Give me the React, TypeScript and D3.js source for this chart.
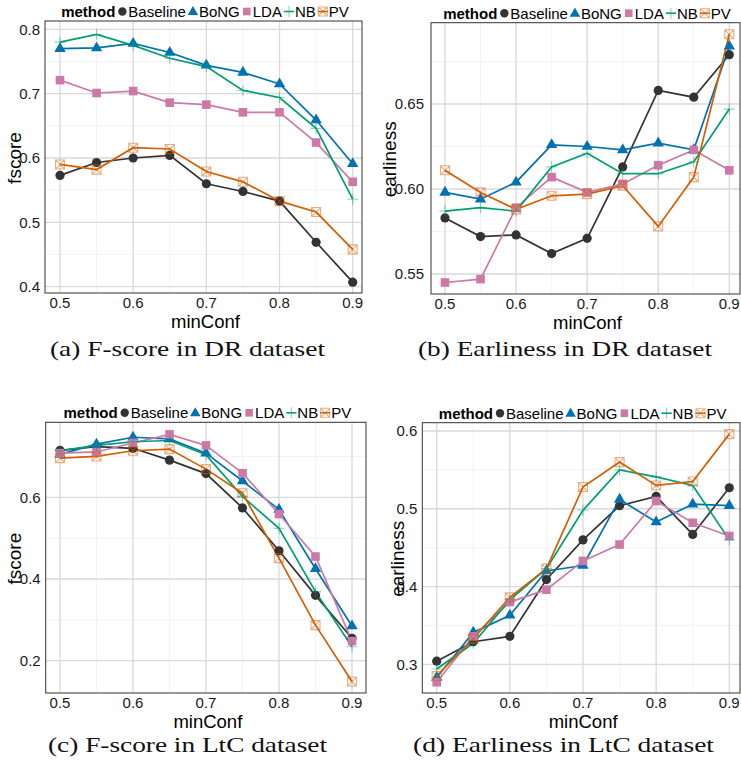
import React, { useEffect, useRef } from "react";
import * as d3 from "d3";

// minConf values on the x axis
const minConf = [0.5, 0.55, 0.6, 0.65, 0.7, 0.75, 0.8, 0.85, 0.9];
const methods = ["Baseline", "BoNG", "LDA", "NB", "PV"];
const colors = ["#333333", "#0072B2", "#CC79A7", "#009E73", "#D55E00"];
const xTicks = [0.5, 0.6, 0.7, 0.8, 0.9];
const xMinor = [0.55, 0.65, 0.75, 0.85];

// one row per method, same order as `methods`
const drFscore = [
  [0.573, 0.593, 0.6, 0.604, 0.56, 0.548, 0.533, 0.469, 0.407],
  [0.77, 0.771, 0.778, 0.764, 0.744, 0.733, 0.715, 0.659, 0.591],
  [0.721, 0.701, 0.704, 0.686, 0.683, 0.671, 0.671, 0.624, 0.563],
  [0.78, 0.792, 0.775, 0.755, 0.742, 0.705, 0.694, 0.646, 0.536],
  [0.59, 0.582, 0.616, 0.614, 0.579, 0.563, 0.533, 0.516, 0.458],
];
const drEarliness = [
  [0.583, 0.572, 0.573, 0.562, 0.571, 0.613, 0.658, 0.654, 0.679],
  [0.598, 0.594, 0.604, 0.626, 0.625, 0.623, 0.627, 0.623, 0.684],
  [0.545, 0.547, 0.589, 0.607, 0.598, 0.603, 0.614, 0.623, 0.611],
  [0.587, 0.589, 0.587, 0.613, 0.621, 0.609, 0.609, 0.616, 0.647],
  [0.611, 0.598, 0.588, 0.596, 0.597, 0.602, 0.578, 0.607, 0.691],
];
const ltcFscore = [
  [0.715, 0.724, 0.72, 0.691, 0.658, 0.574, 0.469, 0.36, 0.255],
  [0.705, 0.73, 0.747, 0.743, 0.708, 0.64, 0.57, 0.425, 0.285],
  [0.708, 0.711, 0.733, 0.754, 0.727, 0.659, 0.559, 0.455, 0.248],
  [0.714, 0.727, 0.736, 0.739, 0.704, 0.602, 0.524, 0.369, 0.234],
  [0.696, 0.7, 0.714, 0.718, 0.669, 0.61, 0.451, 0.287, 0.149],
];
const ltcEarliness = [
  [0.304, 0.329, 0.336, 0.409, 0.46, 0.504, 0.516, 0.467, 0.527],
  [0.283, 0.341, 0.363, 0.42, 0.427, 0.512, 0.483, 0.506, 0.504],
  [0.277, 0.336, 0.38, 0.396, 0.433, 0.454, 0.51, 0.482, 0.465],
  [0.294, 0.327, 0.383, 0.423, 0.498, 0.55, 0.541, 0.53, 0.46],
  [0.285, 0.333, 0.386, 0.423, 0.528, 0.56, 0.53, 0.535, 0.596],
];

const panels = [
  {
    data: drFscore, yTitle: "fscore", caption: "(a) F-score in DR dataset",
    yTicks: [0.4, 0.5, 0.6, 0.7, 0.8], yMinor: [0.45, 0.55, 0.65, 0.75], fmt: ".1f",
    left: 45, right: 362, top: 21, bottom: 293,
    xRange: [60, 352.7], yDomain: [0.4, 0.8], yRange: [286.7, 29.3],
    titleX: 21, labelGap: 5, capX: 187.5, capY: 356, capW: 275,
  },
  {
    data: drEarliness, yTitle: "earliness", caption: "(b) Earliness in DR dataset",
    yTicks: [0.55, 0.6, 0.65], yMinor: [0.575, 0.625, 0.675], fmt: ".2f",
    left: 431, right: 740, top: 22.7, bottom: 294,
    xRange: [445, 729.3], yDomain: [0.55, 0.65], yRange: [274, 104],
    titleX: 396, labelGap: 7, capX: 565, capY: 356, capW: 294,
  },
  {
    data: ltcFscore, yTitle: "fscore", caption: "(c) F-score in LtC dataset",
    yTicks: [0.2, 0.4, 0.6], yMinor: [0.3, 0.5, 0.7], fmt: ".1f",
    left: 45.7, right: 366, top: 422.3, bottom: 693,
    xRange: [60, 352], yDomain: [0.2, 0.6], yRange: [660.7, 497.3],
    titleX: 21, labelGap: 5, capX: 187.5, capY: 752, capW: 279,
  },
  {
    data: ltcEarliness, yTitle: "earliness", caption: "(d) Earliness in LtC dataset",
    yTicks: [0.3, 0.4, 0.5, 0.6], yMinor: [0.35, 0.45, 0.55], fmt: ".1f",
    left: 422.3, right: 740, top: 422.7, bottom: 693,
    xRange: [436.7, 729.3], yDomain: [0.3, 0.6], yRange: [664.3, 431],
    titleX: 404, labelGap: 5, capX: 563.5, capY: 752, capW: 301,
  },
];

const SANS = "'Liberation Sans', Arial, sans-serif";

// ggplot-ish point shapes: circle, triangle, square, plus, square-cross
function drawMarker(g, i, cx, cy) {
  const c = colors[i];
  if (i === 0) {
    g.append("circle").attr("cx", cx).attr("cy", cy).attr("r", 4.6).attr("fill", c);
  } else if (i === 1) {
    g.append("path").attr("d", d3.symbol(d3.symbolTriangle, 56)())
      .attr("transform", `translate(${cx},${cy})`).attr("fill", c);
  } else if (i === 2) {
    g.append("rect").attr("x", cx - 4.3).attr("y", cy - 4.3).attr("width", 8.6).attr("height", 8.6).attr("fill", c);
  } else if (i === 3) {
    g.append("path").attr("d", `M${cx - 5.5},${cy}H${cx + 5.5}M${cx},${cy - 5.5}V${cy + 5.5}`)
      .attr("stroke", c).attr("stroke-opacity", 0.45).attr("stroke-width", 1.1).attr("fill", "none");
  } else {
    const s = 4.5;
    g.append("path")
      .attr("d", `M${cx - s},${cy - s}h${2 * s}v${2 * s}h${-2 * s}Z M${cx - s},${cy - s}L${cx + s},${cy + s}M${cx + s},${cy - s}L${cx - s},${cy + s}`)
      .attr("stroke", c).attr("stroke-opacity", 0.5).attr("stroke-width", 1.1).attr("fill", "none");
  }
}

function drawPanel(svg, p, idx) {
  const g = svg.append("g");
  const x = d3.scaleLinear().domain([0.5, 0.9]).range(p.xRange);
  const y = d3.scaleLinear().domain(p.yDomain).range(p.yRange);
  const clipId = `clip-${idx}`;
  svg.append("clipPath").attr("id", clipId).append("rect")
    .attr("x", p.left).attr("y", p.top).attr("width", p.right - p.left).attr("height", p.bottom - p.top);

  const grid = g.append("g").attr("clip-path", `url(#${clipId})`);
  grid.selectAll(".mx").data(xMinor).join("line")
    .attr("x1", d => x(d)).attr("x2", d => x(d)).attr("y1", p.top).attr("y2", p.bottom)
    .attr("stroke", "#f0f0f0").attr("stroke-width", 0.8);
  grid.selectAll(".my").data(p.yMinor).join("line")
    .attr("y1", d => y(d)).attr("y2", d => y(d)).attr("x1", p.left).attr("x2", p.right)
    .attr("stroke", "#f0f0f0").attr("stroke-width", 0.8);
  grid.selectAll(".gx").data(xTicks).join("line")
    .attr("x1", d => x(d)).attr("x2", d => x(d)).attr("y1", p.top).attr("y2", p.bottom)
    .attr("stroke", "#d9d9d9").attr("stroke-width", 1.3);
  grid.selectAll(".gy").data(p.yTicks).join("line")
    .attr("y1", d => y(d)).attr("y2", d => y(d)).attr("x1", p.left).attr("x2", p.right)
    .attr("stroke", "#d9d9d9").attr("stroke-width", 1.3);

  const line = d3.line().x((d, j) => x(minConf[j])).y(d => y(d));
  const marks = g.append("g").attr("clip-path", `url(#${clipId})`);
  p.data.forEach((vals, i) => {
    marks.append("path").datum(vals).attr("d", line)
      .attr("fill", "none").attr("stroke", colors[i]).attr("stroke-width", 1.7);
  });
  p.data.forEach((vals, i) => {
    vals.forEach((v, j) => drawMarker(marks, i, x(minConf[j]), y(v)));
  });

  g.append("rect").attr("x", p.left).attr("y", p.top)
    .attr("width", p.right - p.left).attr("height", p.bottom - p.top)
    .attr("fill", "none").attr("stroke", "#333").attr("stroke-width", 1);

  // axes text
  const fmt = d3.format(p.fmt);
  g.selectAll(".yl").data(p.yTicks).join("text")
    .attr("x", p.left - p.labelGap).attr("y", d => y(d) + 5.3)
    .attr("text-anchor", "end").attr("font-family", SANS).attr("font-size", 15).attr("fill", "#1a1a1a")
    .text(d => fmt(d));
  g.selectAll(".xl").data(xTicks).join("text")
    .attr("x", d => x(d)).attr("y", p.bottom + 15)
    .attr("text-anchor", "middle").attr("font-family", SANS).attr("font-size", 15).attr("fill", "#1a1a1a")
    .text(d => d3.format(".1f")(d));
  const midX = (p.left + p.right) / 2;
  const midY = (p.top + p.bottom) / 2;
  g.append("text").attr("x", midX + 2).attr("y", p.bottom + 34.5)
    .attr("text-anchor", "middle").attr("font-family", SANS).attr("font-size", 18.5).text("minConf");
  g.append("text").attr("transform", `translate(${p.titleX},${midY + 1}) rotate(-90)`)
    .attr("text-anchor", "middle").attr("font-family", SANS).attr("font-size", 19).text(p.yTitle);

  // legend on top
  const leg = g.append("g");
  let cx = 0;
  const title = leg.append("text").attr("x", 0).attr("y", 5.4)
    .attr("font-family", SANS).attr("font-size", 15).attr("font-weight", "bold").text("method");
  cx += title.node().getComputedTextLength() + 2;
  methods.forEach((m, i) => {
    const kx = cx + 5;
    if (i >= 3) {
      leg.append("line").attr("x1", cx).attr("x2", cx + 10).attr("y1", 0).attr("y2", 0)
        .attr("stroke", colors[i]).attr("stroke-width", 1.5);
    }
    const kg = leg.append("g");
    if (i === 0) kg.append("circle").attr("cx", kx).attr("cy", 0).attr("r", 4.2).attr("fill", colors[0]);
    else if (i === 1) kg.append("path").attr("d", d3.symbol(d3.symbolTriangle, 48)()).attr("transform", `translate(${kx},0.5)`).attr("fill", colors[1]);
    else if (i === 2) kg.append("rect").attr("x", kx - 3.8).attr("y", -3.8).attr("width", 7.6).attr("height", 7.6).attr("fill", colors[2]);
    else drawMarker(kg, i, kx, 0);
    cx += 11;
    const t = leg.append("text").attr("x", cx).attr("y", 5.4)
      .attr("font-family", SANS).attr("font-size", 15).text(m);
    cx += t.node().getComputedTextLength() + 2;
  });
  cx -= 2;
  leg.attr("transform", `translate(${midX + 1.5 - cx / 2},${p.top - 9.5})`);

  // caption under the panel
  g.append("text").attr("x", p.capX).attr("y", p.capY)
    .attr("text-anchor", "middle").attr("font-family", "'Liberation Serif', 'Times New Roman', serif")
    .attr("font-size", 22).attr("fill", "#111")
    .attr("textLength", p.capW).attr("lengthAdjust", "spacingAndGlyphs")
    .text(p.caption);
}

export default function App() {
  const svgRef = useRef(null);

  useEffect(() => {
    const svg = d3.select(svgRef.current);
    svg.selectAll("*").remove();
    panels.forEach((p, i) => drawPanel(svg, p, i));
  }, []);

  return (
    <svg
      ref={svgRef}
      width={741}
      height={767}
      style={{ position: "absolute", left: 0, top: 0, background: "#fff" }}
    />
  );
}
